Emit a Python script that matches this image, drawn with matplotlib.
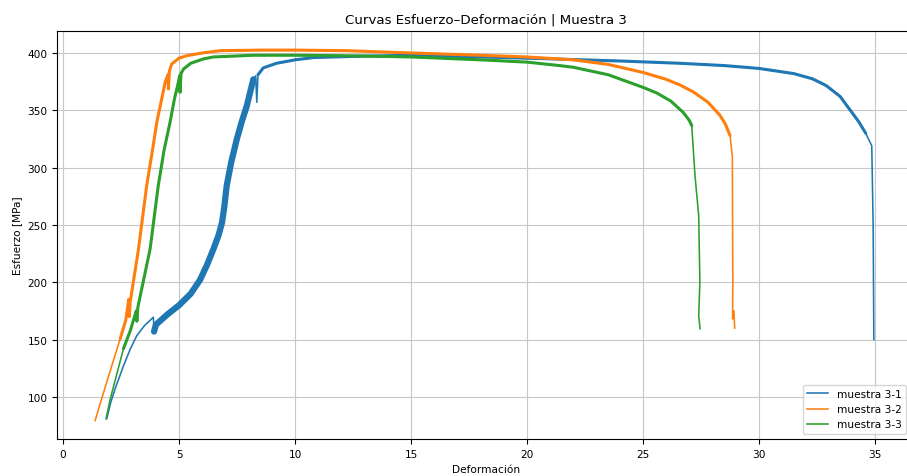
import numpy as np
import matplotlib
matplotlib.use("Agg")
import matplotlib.pyplot as plt

# valores (deformacion, esfuerzo MPa)
m1_x = [1.88, 2.05, 2.24, 2.6, 2.9, 3.18, 3.5, 3.89, 3.92, 4.0, 4.5, 5.0, 5.5, 5.9, 6.2, 6.48,
        6.7, 6.85, 6.95, 7.05, 7.25, 7.49, 7.7, 7.92, 8.2, 8.3, 8.35, 8.4, 8.63, 9.2, 10.0, 10.8,
        12.5, 15.0, 18.0, 20.8, 24.0, 26.6, 28.5, 30.0, 31.5, 32.3, 32.9, 33.5, 33.9, 34.3,
        34.6, 34.86, 34.92, 34.95]
m1_y = [81, 95, 107, 127, 142, 153.5, 162, 169.5, 157, 163, 172, 180, 190, 202, 215, 229,
        241, 252, 266, 284, 305, 325, 340, 354, 377, 380, 357, 381, 387, 391, 394, 396,
        397, 398, 396.5, 395, 393, 391, 389, 386.5, 382, 377.5, 371.5, 362, 351, 340,
        330, 319, 250, 150]

m2_x = [1.38, 1.88, 2.46, 2.7, 2.83, 2.85, 2.89, 3.25, 3.6, 3.85, 4.04, 4.25, 4.4, 4.52, 4.54,
        4.58, 4.68, 5.0, 5.33, 6.0, 6.77, 8.6, 10.0, 12.2, 15.0, 18.0, 20.0, 22.0, 23.5, 25.0,
        26.0, 26.6, 27.17, 27.8, 28.3, 28.55, 28.75, 28.85, 28.87, 28.86, 28.92, 28.95]
m2_y = [79.4, 113, 150.7, 167, 185, 170, 182.6, 229, 284, 315, 339.6, 360, 374.5, 381, 368.6,
        384, 390.4, 395.5, 397.6, 400, 402, 402.5, 402.5, 402, 400, 398, 396.5, 394, 390, 383,
        377, 372, 366, 357, 346, 338, 328, 310, 200, 168, 175, 160]

m3_x = [1.85, 2.03, 2.6, 2.9, 3.15, 3.18, 3.22, 3.5, 3.75, 4.1, 4.35, 4.61, 4.8, 4.97, 5.02,
        5.04, 5.08, 5.19, 5.5, 6.05, 6.47, 8.2, 10.0, 12.5, 15.0, 18.0, 20.0, 21.4, 22.0, 23.5,
        25.0, 25.6, 26.2, 26.74, 27.0, 27.1, 27.24, 27.4, 27.45, 27.4, 27.46]
m3_y = [81, 98, 142, 158, 175, 166, 178, 205, 229, 284, 315, 339.6, 360, 374.5, 380,
        365.7, 382, 386, 391, 394.8, 396.5, 398, 398, 397.5, 396.5, 394, 392, 389, 387.5, 381,
        370, 365, 358, 348, 341, 336.6, 293, 258, 200, 171, 159.4]

labels = ["muestra 3-1", "muestra 3-2", "muestra 3-3"]
colores = ["tab:blue", "tab:orange", "tab:green"]

plt.rcParams["font.size"] = 7.6

fig = plt.figure(figsize=(9.07, 4.77), dpi=100)
ax = fig.add_axes([0.0632, 0.0776, 0.945, 0.8547])

series = [(m1_x, m1_y), (m2_x, m2_y), (m3_x, m3_y)]
# tramos con ruido (se ven mas gruesos): (inicio, fin, grosor)
tramos = [[(8, 25, 4.5), (27, 47, 2.2)],
          [(2, 37, 2.2)],
          [(2, 36, 2.2)]]

for (x, y), lab, c, tr in zip(series, labels, colores, tramos):
    x = np.array(x)
    y = np.array(y)
    ax.plot(x, y, color=c, lw=1.15, label=lab)
    for a, b, w in tr:
        ax.plot(x[a:b], y[a:b], color=c, lw=w, solid_capstyle="round")

ax.set_xlim(-0.25, 36.7)
ax.set_ylim(63.3, 418.9)
ax.grid(True, color="#c8c8c8")
ax.set_title("Curvas Esfuerzo–Deformación | Muestra 3", fontsize=9.6)
ax.set_xlabel("Deformación")
ax.set_ylabel("Esfuerzo [MPa]")
ax.legend(loc="lower right", bbox_to_anchor=(0.9963, 0.0))

fig.savefig("out.png", dpi=100)
